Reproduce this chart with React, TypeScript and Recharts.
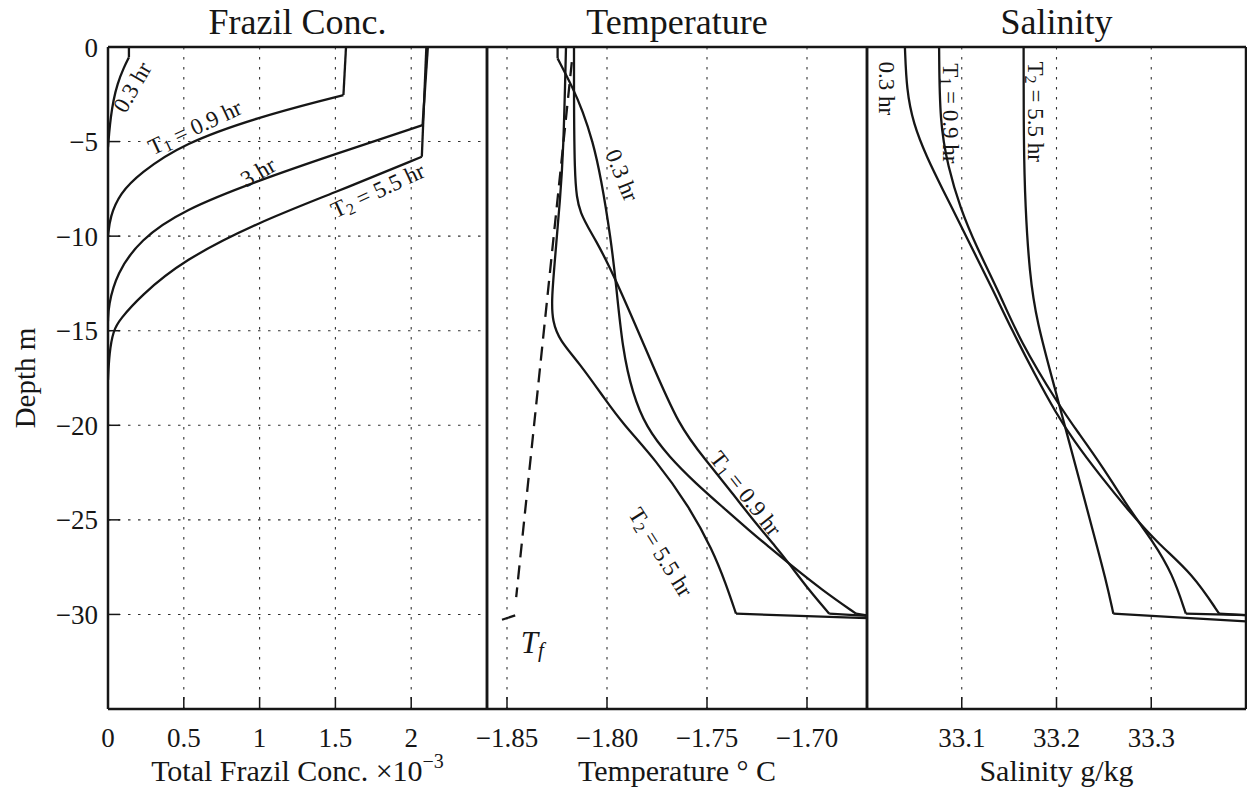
import React from 'react'
import {
  LineChart,
  Line,
  XAxis,
  YAxis,
  CartesianGrid,
  ReferenceDot,
  Label,
} from 'recharts'

type Pair = [number, number]

const W = 1247
const H = 788
const SERIF = '"Liberation Serif", "Times New Roman", serif'
const INK = '#161616'

const depthTicks = [-30, -25, -20, -15, -10, -5, 0]
const frazilTicks = [0, 0.5, 1, 1.5, 2]
const tempTicks = [-1.85, -1.8, -1.75, -1.7]
const salinityTicks = [33.1, 33.2, 33.3]

// frazil concentration (x1e-3) vs depth (m)
const frazil03Surface: Pair[] = [[0.138, 0], [0.138, -0.55]]
const frazil03Profile: Pair[] = [[0.138, -0.55], [0.105, -1.07], [0.061, -1.96], [0.035, -2.84], [0.018, -3.72], [0.008, -4.5], [0, -5.3]]
const frazilT1Surface: Pair[] = [[1.57, 0], [1.553, -2.54]]
const frazilT1Profile: Pair[] = [[1.553, -2.54], [1.439, -2.77], [1.0, -3.69], [0.495, -5.1], [0.21, -6.68], [0.079, -7.74], [0.013, -8.98], [0, -10.0]]
const frazil3Surface: Pair[] = [[2.11, 0], [2.075, -4.13]]
const frazil3Profile: Pair[] = [[2.075, -4.13], [1.482, -5.71], [1.0, -7.04], [0.495, -8.62], [0.21, -10.2], [0.057, -11.97], [0.002, -13.7], [0, -14.5]]
const frazilT2Surface: Pair[] = [[2.1, 0], [2.07, -5.8]]
const frazilT2Profile: Pair[] = [[2.07, -5.8], [1.482, -7.74], [1.0, -9.24], [0.495, -11.27], [0.21, -13.2], [0.079, -14.4], [0.035, -14.97], [0.008, -16.2], [0, -17.6]]

// temperature (deg C) vs depth
const temp03Top: Pair[] = [[-1.8247, 0], [-1.8247, -0.6]]
const temp03: Pair[] = [[-1.8247, -0.6], [-1.8172, -2.13], [-1.8122, -3.37], [-1.8072, -4.96], [-1.803, -6.9], [-1.798, -10.2], [-1.7955, -12.5], [-1.7922, -16.03], [-1.7872, -18.32], [-1.7805, -20.09], [-1.7689, -21.68], [-1.7555, -23.08], [-1.7422, -24.32], [-1.7289, -25.56], [-1.7189, -26.44], [-1.7089, -27.32], [-1.6922, -28.73], [-1.6755, -29.96]]
const temp03Bottom: Pair[] = [[-1.6755, -29.96], [-1.67, -30.05]]
const tempT1: Pair[] = [[-1.8165, 0], [-1.8165, -7.2], [-1.8139, -8.8], [-1.8055, -10.2], [-1.7955, -12.3], [-1.7789, -16.39], [-1.7639, -20.09], [-1.7505, -21.85], [-1.7372, -23.61], [-1.7255, -25.2], [-1.7155, -26.44], [-1.7089, -27.32], [-1.6989, -28.73], [-1.6889, -29.96]]
const tempT1Bottom: Pair[] = [[-1.6889, -29.96], [-1.67, -30.08]]
const tempT2: Pair[] = [[-1.8205, 0], [-1.8218, -5.6], [-1.8235, -8.1], [-1.8256, -10.7], [-1.8278, -13.4], [-1.8272, -14.5], [-1.8238, -15.5], [-1.8139, -16.7], [-1.8005, -18.7], [-1.7922, -19.9], [-1.7755, -21.85], [-1.7589, -24.3], [-1.7472, -26.6], [-1.7405, -28.4], [-1.7355, -29.96]]
const tempT2Bottom: Pair[] = [[-1.7355, -29.96], [-1.67, -30.2]]
const freezingTemp: Pair[] = [[-1.8176, -0.8], [-1.8454, -29.08]]
const freezingHook: Pair[] = [[-1.8459, -30.05], [-1.8525, -30.28]]

// salinity (g/kg) vs depth
const sal03: Pair[] = [[33.04, 0], [33.0418, -2.28], [33.0488, -4.04], [33.0628, -5.8], [33.0803, -7.57], [33.0979, -9.33], [33.1155, -11.1], [33.133, -12.86], [33.153, -14.97], [33.177, -17.3], [33.2, -19.4], [33.218, -20.8], [33.245, -22.6], [33.279, -24.7], [33.308, -26.3], [33.3435, -27.85], [33.3716, -29.96]]
const sal03Bottom: Pair[] = [[33.3716, -29.96], [33.4, -30.04]]
const salT1: Pair[] = [[33.0761, 0], [33.0768, -4.04], [33.0856, -6.33], [33.0979, -8.45], [33.1155, -10.57], [33.14, -13.03], [33.161, -15.5], [33.2032, -19.0], [33.2232, -20.4], [33.2488, -22.2], [33.2803, -24.7], [33.3014, -26.1], [33.3225, -27.85], [33.3365, -29.96]]
const salT1Bottom: Pair[] = [[33.3365, -29.96], [33.4, -30.04]]
const salT2: Pair[] = [[33.1653, 0], [33.1653, -4.9], [33.167, -8.45], [33.1716, -11.97], [33.1786, -14.44], [33.1997, -18.3], [33.2102, -20.3], [33.2242, -22.9], [33.2382, -25.55], [33.2523, -28.2], [33.26, -29.96]]
const salT2Bottom: Pair[] = [[33.26, -29.96], [33.4, -30.37]]

const toRows = (pairs: Pair[]) => pairs.map(([v, d]) => ({ v, d }))

const frazilSeries = [
  { pts: frazil03Surface, curve: 'linear' },
  { pts: frazil03Profile, curve: 'basis' },
  { pts: frazilT1Surface, curve: 'linear' },
  { pts: frazilT1Profile, curve: 'basis' },
  { pts: frazil3Surface, curve: 'linear' },
  { pts: frazil3Profile, curve: 'basis' },
  { pts: frazilT2Surface, curve: 'linear' },
  { pts: frazilT2Profile, curve: 'basis' },
]
const tempSeries = [
  { pts: temp03Top, curve: 'linear' },
  { pts: temp03, curve: 'basis' },
  { pts: temp03Bottom, curve: 'linear' },
  { pts: tempT1, curve: 'basis' },
  { pts: tempT1Bottom, curve: 'linear' },
  { pts: tempT2, curve: 'basis' },
  { pts: tempT2Bottom, curve: 'linear' },
  { pts: freezingTemp, curve: 'linear', dash: '14 8' },
  { pts: freezingHook, curve: 'linear' },
]
const salSeries = [
  { pts: sal03, curve: 'basis' },
  { pts: sal03Bottom, curve: 'linear' },
  { pts: salT1, curve: 'basis' },
  { pts: salT1Bottom, curve: 'linear' },
  { pts: salT2, curve: 'basis' },
  { pts: salT2Bottom, curve: 'linear' },
]

// curve labels, anchored in data coordinates
const frazilNotes = [
  { v: 0.158, d: -2.12, rot: -60, text: '0.3 hr' },
  { v: 0.572, d: -4.23, rot: -25, text: 'T', sub: '1', rest: ' = 0.9 hr' },
  { v: 0.989, d: -6.6, rot: -30, text: '3 hr' },
  { v: 1.778, d: -7.57, rot: -25, text: 'T', sub: '2', rest: ' = 5.5 hr' },
]
const tempNotes = [
  { v: -1.7923, d: -6.77, rot: 68, text: '0.3 hr' },
  { v: -1.7305, d: -23.6, rot: 52, text: 'T', sub: '1', rest: ' = 0.9 hr' },
  { v: -1.773, d: -26.7, rot: 58, text: 'T', sub: '2', rest: ' = 5.5 hr' },
]
const salNotes = [
  { v: 33.0216, d: -2.19, rot: 90, text: '0.3 hr' },
  { v: 33.0882, d: -3.51, rot: 90, text: 'T', sub: '1', rest: ' = 0.9 hr' },
  { v: 33.1786, d: -3.42, rot: 90, text: 'T', sub: '2', rest: ' = 5.5 hr' },
]

const minus = (v: number, digits?: number) => {
  const s = digits === undefined ? String(Math.abs(v)) : Math.abs(v).toFixed(digits)
  return v < 0 ? '\u2212' + s : s
}

function CurveNote(props: any) {
  const vb = props.viewBox || {}
  const x = vb.x ?? 0
  const y = vb.y ?? 0
  const size = 23
  return (
    <text
      x={x}
      y={y}
      transform={`rotate(${props.rot} ${x} ${y})`}
      textAnchor="middle"
      dominantBaseline="central"
      fontFamily={SERIF}
      fontSize={size}
      fill={INK}
    >
      <tspan>{props.text}</tspan>
      {props.sub && (
        <tspan dy={5} fontSize={size * 0.7}>
          {props.sub}
        </tspan>
      )}
      {props.rest && <tspan dy={-5}>{props.rest}</tspan>}
    </text>
  )
}

function FreezingNote(props: any) {
  const vb = props.viewBox || {}
  const x = vb.x ?? 0
  const y = vb.y ?? 0
  return (
    <text x={x} y={y} textAnchor="middle" dominantBaseline="central" fontFamily={SERIF} fontSize={31} fill={INK}>
      <tspan fontStyle="italic">T</tspan>
      <tspan fontStyle="italic" fontSize={21} dy={8}>f</tspan>
    </text>
  )
}

function PanelTitle(props: any) {
  const vb = props.viewBox || {}
  return (
    <text x={vb.x + vb.width / 2} y={vb.y - 12} textAnchor="middle" fontFamily={SERIF} fontSize={36} fill={INK}>
      {props.title}
    </text>
  )
}

function AxisTitle(props: any) {
  const vb = props.viewBox || {}
  return (
    <text x={vb.x + vb.width / 2} y={vb.y + 72} textAnchor="middle" fontFamily={SERIF} fontSize={30} fill={INK}>
      <tspan>{props.title}</tspan>
      {props.sup && (
        <tspan dy={-13} fontSize={20}>
          {props.sup}
        </tspan>
      )}
    </text>
  )
}

function DepthTitle(props: any) {
  const vb = props.viewBox || {}
  const x = vb.x + 17
  const y = vb.y + vb.height / 2
  return (
    <text x={x} y={y} transform={`rotate(-90 ${x} ${y})`} textAnchor="middle" dominantBaseline="central" fontFamily={SERIF} fontSize={29} fill={INK}>
      Depth m
    </text>
  )
}

interface PanelProps {
  left: number
  right: number
  domain: [number, number]
  ticks: number[]
  fmt: (v: number) => string
  series: { pts: Pair[]; curve: string; dash?: string }[]
  notes: { v: number; d: number; rot: number; text: string; sub?: string; rest?: string }[]
  title: string
  axisTitle: string
  axisSup?: string
  showDepth?: boolean
  freezing?: boolean
}

function Panel({ left, right, domain, ticks, fmt, series, notes, title, axisTitle, axisSup, showDepth, freezing }: PanelProps) {
  const yWidth = showDepth ? 100 : 1
  const axisLine = { stroke: INK, strokeWidth: 2.5 }
  const tickLine = { stroke: INK, strokeWidth: 1.5 }
  return (
    <div style={{ position: 'absolute', left: 0, top: 0 }}>
      <LineChart
        width={W}
        height={H}
        margin={{ top: 46, bottom: 0, left: left - yWidth, right: W - right - 1 }}
      >
        <CartesianGrid stroke="#333" strokeWidth={1.1} strokeDasharray="2.5 7.5" />
        <XAxis
          type="number"
          dataKey="v"
          domain={domain}
          ticks={ticks}
          interval={0}
          allowDataOverflow
          height={79}
          tickSize={-12}
          tickMargin={31}
          tickFormatter={fmt}
          axisLine={axisLine}
          tickLine={tickLine}
          tick={{ fill: INK, fontSize: 27, fontFamily: SERIF }}
        >
          <Label content={<AxisTitle title={axisTitle} sup={axisSup} />} />
        </XAxis>
        <XAxis
          xAxisId="top"
          orientation="top"
          type="number"
          dataKey="v"
          domain={domain}
          ticks={ticks}
          interval={0}
          allowDataOverflow
          height={1}
          tickSize={-12}
          tick={false}
          axisLine={axisLine}
          tickLine={tickLine}
        >
          <Label content={<PanelTitle title={title} />} />
        </XAxis>
        <YAxis
          type="number"
          domain={[-35, 0]}
          ticks={depthTicks}
          interval={0}
          allowDataOverflow
          width={yWidth}
          tickSize={-12}
          tickMargin={22}
          tickFormatter={(v: number) => minus(v)}
          axisLine={axisLine}
          tickLine={tickLine}
          tick={showDepth ? { fill: INK, fontSize: 27, fontFamily: SERIF } : false}
        >
          {showDepth && <Label content={<DepthTitle />} />}
        </YAxis>
        <YAxis
          yAxisId="right"
          orientation="right"
          type="number"
          domain={[-35, 0]}
          ticks={depthTicks}
          interval={0}
          allowDataOverflow
          width={1}
          tickSize={-12}
          tick={false}
          axisLine={axisLine}
          tickLine={tickLine}
        />
        {series.map((s, i) => (
          <Line
            key={i}
            data={toRows(s.pts)}
            dataKey="d"
            type={s.curve as any}
            stroke={INK}
            strokeWidth={2.3}
            strokeDasharray={s.dash}
            strokeLinejoin="round"
            dot={false}
            activeDot={false}
            isAnimationActive={false}
          />
        ))}
        {notes.map((n, i) => (
          <ReferenceDot
            key={'n' + i}
            x={n.v}
            y={n.d}
            r={0}
            fill="none"
            stroke="none"
            label={<CurveNote rot={n.rot} text={n.text} sub={n.sub} rest={n.rest} />}
          />
        ))}
        {freezing && (
          <ReferenceDot x={-1.8373} y={-31.45} r={0} fill="none" stroke="none" label={<FreezingNote />} />
        )}
      </LineChart>
    </div>
  )
}

export default function App() {
  return (
    <div style={{ position: 'relative', width: W, height: H, background: '#fff', overflow: 'hidden' }}>
      <style>{'body{margin:0;background:#fff}'}</style>
      <Panel
        left={108}
        right={487}
        domain={[0, 2.5]}
        ticks={frazilTicks}
        fmt={(v) => String(v)}
        series={frazilSeries}
        notes={frazilNotes}
        title="Frazil Conc."
        axisTitle={'Total Frazil Conc. \u00d710'}
        axisSup={'\u22123'}
        showDepth
      />
      <Panel
        left={487}
        right={867}
        domain={[-1.86, -1.67]}
        ticks={tempTicks}
        fmt={(v) => minus(v, 2)}
        series={tempSeries}
        notes={tempNotes}
        title="Temperature"
        axisTitle={'Temperature \u00b0 C'}
        freezing
      />
      <Panel
        left={867}
        right={1246}
        domain={[33.0, 33.4]}
        ticks={salinityTicks}
        fmt={(v) => v.toFixed(1)}
        series={salSeries}
        notes={salNotes}
        title="Salinity"
        axisTitle="Salinity g/kg"
      />
    </div>
  )
}
